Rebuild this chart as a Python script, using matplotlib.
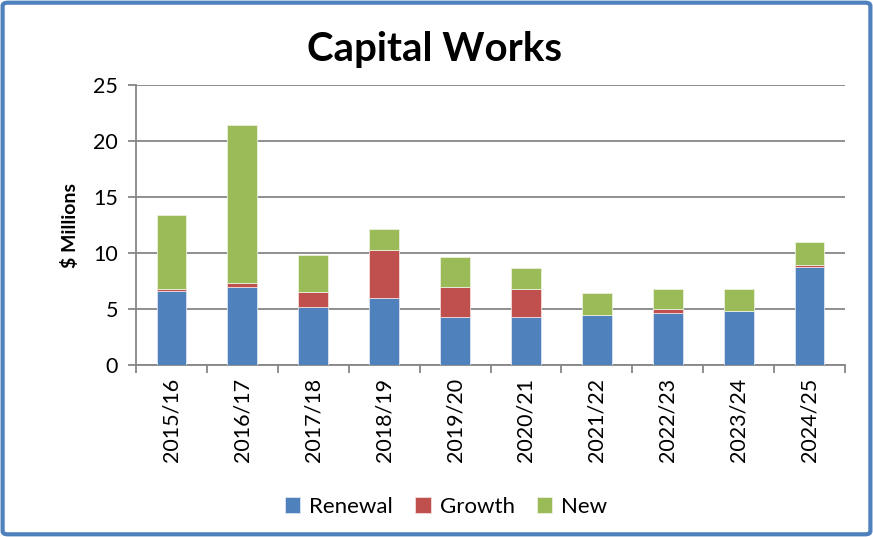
import matplotlib
matplotlib.use("Agg")
import matplotlib.pyplot as plt
from matplotlib.patches import FancyBboxPatch
import numpy as np

years = ["2015/16", "2016/17", "2017/18", "2018/19", "2019/20",
         "2020/21", "2021/22", "2022/23", "2023/24", "2024/25"]
renewal = [6.65, 7.0, 5.2, 6.0, 4.32, 4.32, 4.47, 4.65, 4.83, 8.78]
growth = [0.15, 0.33, 1.28, 4.25, 2.63, 2.45, 0.0, 0.33, 0.0, 0.15]
new = [6.63, 14.07, 3.33, 1.86, 2.67, 1.86, 2.0, 1.82, 1.97, 2.01]

colors = {"Renewal": "#4F81BD", "Growth": "#C0504D", "New": "#9BBB59"}
grid_col = "#868686"

plt.rcParams["font.family"] = ["Lato", "DejaVu Sans"]

fig = plt.figure(figsize=(8.73, 5.37), dpi=100)
# outer border of the chart area
fig.patches.append(FancyBboxPatch((0.003, 0.005), 0.994, 0.99,
                                  boxstyle="round,pad=0,rounding_size=0.006",
                                  transform=fig.transFigure, fill=False,
                                  edgecolor="#4F81BD", linewidth=3))

ax = fig.add_axes([136 / 873, 1 - 365 / 537, (845 - 136) / 873, (365 - 85) / 537])

x = np.arange(len(years))
w = 0.42
r = np.array(renewal)
g = np.array(growth)
n = np.array(new)
ax.bar(x, r, w, color=colors["Renewal"], edgecolor="#dbe5f1", linewidth=0.6, label="Renewal", zorder=3)
ax.bar(x, g, w, bottom=r, color=colors["Growth"], edgecolor="#f2dcdb", linewidth=0.6, label="Growth", zorder=3)
ax.bar(x, n, w, bottom=r + g, color=colors["New"], edgecolor="#ebf1de", linewidth=0.6, label="New", zorder=3)

ax.set_xlim(-0.5, len(years) - 0.5)
ax.set_ylim(0, 25)
ax.set_yticks(range(0, 26, 5))
ax.yaxis.grid(True, color=grid_col, linewidth=1.3, zorder=0)
ax.set_axisbelow(True)

# category labels centred, tick marks on the category boundaries
ax.set_xticks(x)
ax.set_xticklabels(years, rotation=90, fontsize=15.5)
ax.tick_params(axis="x", length=0, pad=9)
ax.set_xticks(np.arange(-0.5, len(years)), minor=True)
ax.tick_params(axis="x", which="minor", length=6, width=1.3, color=grid_col)
ax.tick_params(axis="y", labelsize=15.5, length=6, width=1.3, color=grid_col, pad=7)

for s in ["top", "right"]:
    ax.spines[s].set_visible(False)
for s in ["left", "bottom"]:
    ax.spines[s].set_color(grid_col)
    ax.spines[s].set_linewidth(1.3)

ax.set_ylabel("$ Millions", fontsize=14, fontweight="bold", labelpad=10)
fig.text(0.498, 1 - 50 / 537, "Capital Works", ha="center", va="center",
         fontsize=29, fontweight="bold")

fig.legend(loc="center", bbox_to_anchor=(0.511, 1 - 507 / 537), ncol=3,
           frameon=False, fontsize=16, handlelength=0.7, handleheight=0.7,
           handletextpad=0.4, columnspacing=1.0)

fig.savefig("out.png", dpi=100)
